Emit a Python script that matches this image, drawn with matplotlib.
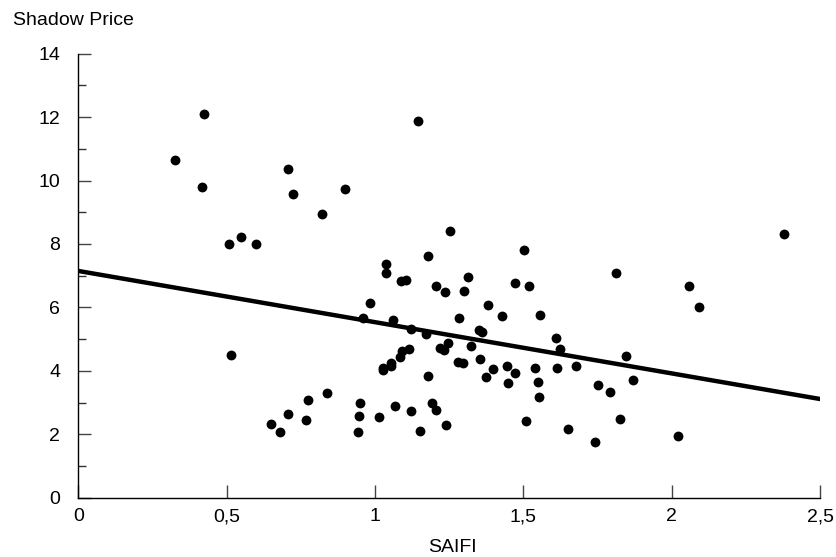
import matplotlib.pyplot as plt
from matplotlib.ticker import MultipleLocator, FuncFormatter

plt.rcParams['font.family'] = ['Liberation Sans', 'DejaVu Sans']

saifi = [0.425, 0.326, 0.416, 0.509, 0.548, 0.599, 0.707, 0.725, 0.821, 0.898,
         1.146, 1.253, 1.178, 1.502, 1.036, 1.036, 1.087, 1.104, 1.312, 1.811,
         1.471, 2.378, 2.057, 2.091, 1.844, 1.869, 1.751, 1.793, 1.826, 2.022,
         1.204, 1.236, 1.298, 1.517, 0.984, 1.380, 1.429, 1.557, 0.958, 1.060,
         1.282, 1.121, 1.170, 1.350, 1.361, 1.246, 1.219, 1.232, 1.322, 1.608,
         1.622, 1.115, 1.090, 1.084, 1.053, 1.053, 1.026, 1.028, 1.281, 1.297,
         1.352, 1.396, 1.443, 1.471, 1.373, 1.447, 1.538, 1.550, 1.553, 1.613,
         1.676, 1.177, 0.949, 0.947, 0.943, 1.012, 1.068, 1.122, 1.193, 1.205,
         1.151, 1.240, 1.508, 1.651, 1.742, 0.514, 0.837, 0.775, 0.768, 0.708,
         0.649, 0.681]
price = [12.10, 10.65, 9.79, 8.00, 8.21, 8.00, 10.36, 9.57, 8.93, 9.72,
         11.87, 8.41, 7.62, 7.82, 7.36, 7.08, 6.84, 6.85, 6.97, 7.10,
         6.76, 8.32, 6.68, 6.01, 4.47, 3.71, 3.55, 3.34, 2.48, 1.94,
         6.69, 6.50, 6.53, 6.69, 6.13, 6.08, 5.72, 5.75, 5.65, 5.60,
         5.66, 5.31, 5.17, 5.29, 5.23, 4.87, 4.71, 4.66, 4.78, 5.04,
         4.70, 4.70, 4.63, 4.44, 4.26, 4.15, 4.08, 4.03, 4.29, 4.24,
         4.37, 4.07, 4.15, 3.92, 3.81, 3.62, 4.08, 3.66, 3.18, 4.09,
         4.14, 3.85, 2.98, 2.59, 2.08, 2.55, 2.88, 2.74, 2.99, 2.77,
         2.11, 2.28, 2.41, 2.18, 1.74, 4.51, 3.29, 3.08, 2.46, 2.63,
         2.32, 2.07]

# fitted trend line end points
fit_x = [0, 2.5]
fit_y = [7.15, 3.11]

fig = plt.figure(figsize=(8.37, 5.57), dpi=100)
ax = fig.add_axes([0.0935, 0.1065, 0.8865, 0.7971])

ax.scatter(saifi, price, s=50, color='black', zorder=3, linewidths=0)
ax.plot(fit_x, fit_y, color='black', linewidth=3.2, solid_capstyle='butt')

ax.set_xlim(0, 2.5)
ax.set_ylim(0, 14)
ax.xaxis.set_major_locator(MultipleLocator(0.5))
ax.yaxis.set_major_locator(MultipleLocator(2))
ax.yaxis.set_minor_locator(MultipleLocator(1))
ax.xaxis.set_major_formatter(FuncFormatter(lambda v, p: ('%g' % v).replace('.', ',')))

for s in ['top', 'right']:
    ax.spines[s].set_visible(False)
ax.spines['left'].set_linewidth(1)
ax.spines['bottom'].set_linewidth(1)

ax.tick_params(axis='both', which='major', direction='in', length=9.6, width=1,
               labelsize=14, color='#444444')
ax.tick_params(axis='y', which='major', pad=13)
ax.tick_params(axis='x', which='major', pad=7.5)
ax.tick_params(axis='y', which='minor', direction='in', length=5.5, width=1, color='#333333')

fig.text(0.0152, 0.955, 'Shadow Price', fontsize=14, ha='left', va='baseline')
fig.text(0.54, 0.009, 'SAIFI', fontsize=14, ha='center', va='baseline')

fig.savefig('out.png', dpi=100)
